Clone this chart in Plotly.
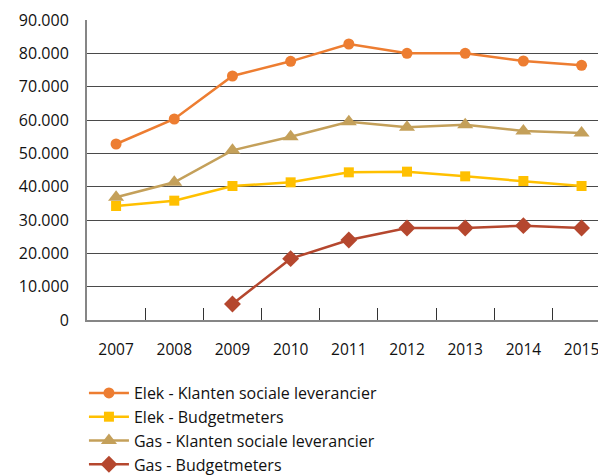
import plotly.graph_objects as go

years = ["2007", "2008", "2009", "2010", "2011", "2012", "2013", "2014", "2015"]
elek_klanten = [52800, 60300, 73200, 77600, 82800, 80000, 80000, 77700, 76400]
elek_budget = [34200, 35800, 40200, 41300, 44300, 44500, 43100, 41700, 40200]
gas_klanten = [36800, 41300, 50900, 55000, 59500, 57800, 58600, 56700, 56100]
gas_budget = [None, None, 4800, 18400, 24000, 27600, 27600, 28300, 27600]

series = [
    ("Elek - Klanten sociale leverancier", elek_klanten, "#ED7D31", "circle", 11),
    ("Elek - Budgetmeters", elek_budget, "#FFC000", "square", 10),
    ("Gas - Klanten sociale leverancier", gas_klanten, "#C4A05A", "triangle-up", 14),
    ("Gas - Budgetmeters", gas_budget, "#B5472E", "diamond", 13),
]

fig = go.Figure()
for name, vals, color, sym, size in series:
    fig.add_trace(go.Scatter(
        x=years, y=vals, name=name, mode="lines+markers",
        line=dict(color=color, width=2.5),
        marker=dict(symbol=sym, size=size, color=color),
        connectgaps=False,
    ))

font_family = "'Open Sans', Lato, sans-serif"
fig.update_layout(
    width=598, height=467,
    margin=dict(l=79, r=0, t=12, b=155, autoexpand=False),
    paper_bgcolor="white", plot_bgcolor="white",
    separators=",.",
    font=dict(family=font_family, size=16, color="#111111"),
    showlegend=True,
    legend=dict(
        orientation="v",
        xref="container", yref="container",
        x=0.127, y=0.212, xanchor="left", yanchor="top",
        font=dict(size=16, color="#111111"),
        bgcolor="rgba(0,0,0,0)",
        itemwidth=40,
        tracegroupgap=0,
    ),
)
fig.update_xaxes(
    type="category",
    range=[-0.5, 8.42],
    showline=True, linecolor="#868686", linewidth=2,
    ticks="inside", tickson="boundaries", ticklen=12, tickcolor="#333333", tickwidth=1,
    showgrid=False,
    tickangle=0,
    ticklabelstandoff=14,
    tickfont=dict(size=15.5),
)
fig.update_yaxes(
    range=[0, 90000], dtick=10000, tickformat=",d",
    showline=True, linecolor="#868686", linewidth=2,
    showgrid=True, gridcolor="#4a4a4a", gridwidth=1,
    zeroline=False,
    ticks="", ticklabelstandoff=13,
    tickfont=dict(size=16),
)

fig.write_html("out.html")
